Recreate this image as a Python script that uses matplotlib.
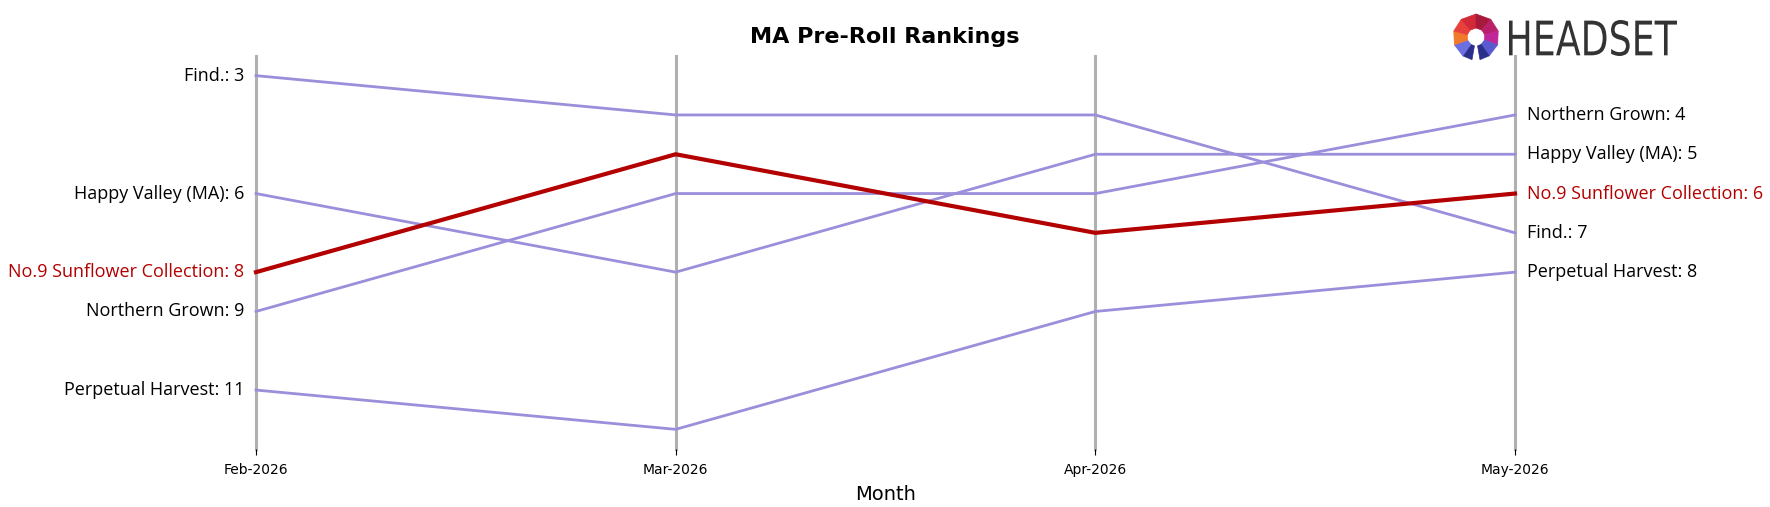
import matplotlib
matplotlib.use("Agg")
import matplotlib.pyplot as plt
from matplotlib.patches import Polygon, PathPatch
from matplotlib.textpath import TextPath
from matplotlib.font_manager import FontProperties
from matplotlib.transforms import Affine2D
import numpy as np

months = ["Feb-2026", "Mar-2026", "Apr-2026", "May-2026"]
brands = ["Find.", "Happy Valley (MA)", "No.9 Sunflower Collection", "Northern Grown", "Perpetual Harvest"]
rank_find = [3, 4, 4, 7]
rank_happy = [6, 8, 5, 5]
rank_no9 = [8, 5, 7, 6]
rank_northern = [9, 6, 6, 4]
rank_perpetual = [11, 12, 9, 8]
ranks = [rank_find, rank_happy, rank_no9, rank_northern, rank_perpetual]
highlight = "No.9 Sunflower Collection"

W, H = 1770, 507
fig = plt.figure(figsize=(W / 100, H / 100), dpi=100)
ax = fig.add_axes([256 / W, 1 - 449 / H, (1515 - 256) / W, (449 - 56) / H])

x = np.arange(len(months))
for xi in x:
    ax.axvline(xi, color="#b0b0b0", lw=2.2, zorder=1, clip_on=False)

purple = "#9b8edb"
red = "#b30000"
for name, r in zip(brands, ranks):
    hl = name == highlight
    ax.plot(x, r, color=red if hl else purple, lw=3 if hl else 2, zorder=3 if hl else 2,
            clip_on=False)
    lab_font = dict(fontsize=13, family="Open Sans", color=red if hl else "black", va="center")
    ax.text(-0.028, r[0], f"{name}: {r[0]}", ha="right", **lab_font)
    ax.text(x[-1] + 0.028, r[-1], f"{name}: {r[-1]}", ha="left", **lab_font)

ax.set_xlim(x[0], x[-1])
ax.set_ylim(12.5, 2.5)
ax.set_xticks(x)
ax.set_xticklabels(months, fontsize=10)
ax.set_yticks([])
for s in ax.spines.values():
    s.set_visible(False)
ax.tick_params(axis="x", length=4, pad=6)
ax.set_xlabel("Month", fontsize=14, labelpad=6)
fig.text(0.5, 1 - 37 / H, "MA Pre-Roll Rankings", ha="center", va="center", fontsize=16, fontweight="bold")

# logo mark
cx, cy = 1476, 37
ro, ri = 23, 9
segs = [
    (-125, -100, "#2b2f8c"),
    (-160, -125, "#6b6fe0"),
    (165, 200, "#f07a2a"),
    (130, 165, "#e8403a"),
    (90, 130, "#d32a3a"),
    (50, 90, "#a81a3c"),
    (15, 50, "#b8206a"),
    (-20, 15, "#c0259a"),
    (-55, -20, "#5a5ad0"),
    (-80, -55, "#2b2f8c"),
]
for a0, a1, c in segs:
    a = np.radians(np.linspace(a0, a1, 2))
    outer = [(cx + ro * np.cos(t), cy - ro * np.sin(t)) for t in a]
    inner = [(cx + ri * np.cos(t), cy - ri * np.sin(t)) for t in a[::-1]]
    pts = [(px / W, 1 - py / H) for px, py in outer + inner]
    fig.patches.append(Polygon(pts, closed=True, transform=fig.transFigure, facecolor=c, edgecolor=c, lw=0.5))

# logo word, horizontally condensed
tp = TextPath((0, 0), "HEADSET", size=1, prop=FontProperties(family="DejaVu Sans"))
ext = tp.get_extents()
target_w, target_h = 168, 36
sx = target_w / ext.width
sy = target_h / ext.height
tr = Affine2D().translate(-ext.x0, -ext.y0).scale(sx, sy).translate(1509, H - 56)
tp = tr.transform_path(tp)
fig.patches.append(PathPatch(tp, transform=Affine2D().scale(1 / W, 1 / H) + fig.transFigure,
                             facecolor="#333333", edgecolor="none"))

fig.savefig("out.png", dpi=100)
